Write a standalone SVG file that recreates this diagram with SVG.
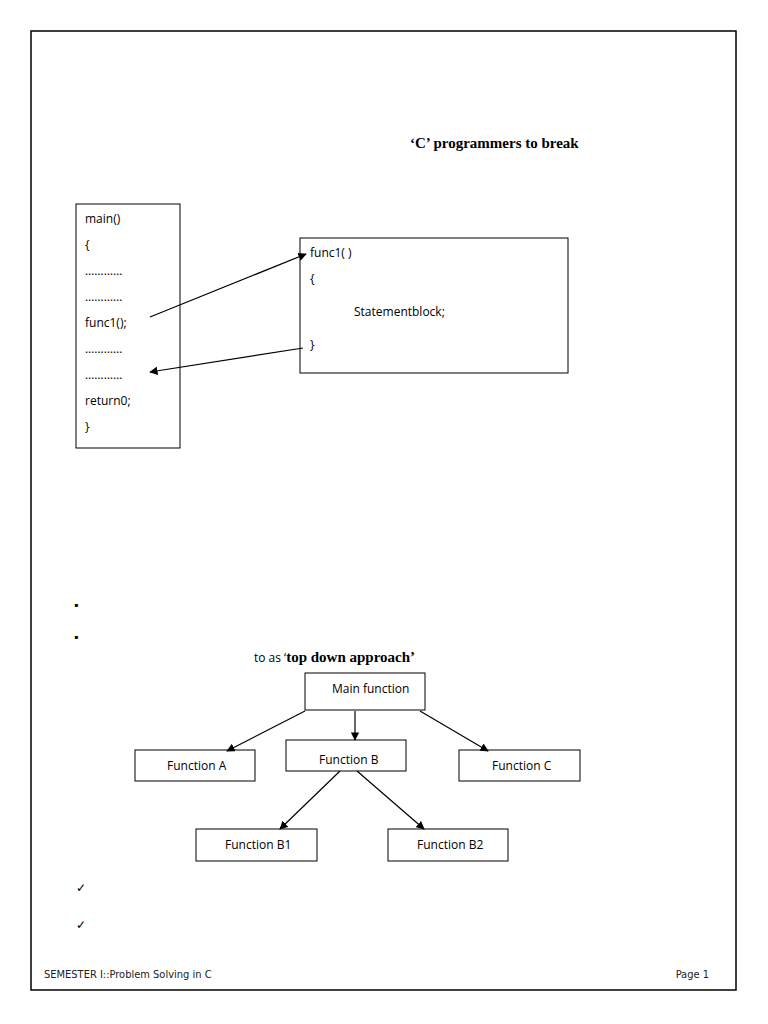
<svg xmlns="http://www.w3.org/2000/svg" width="768" height="1024" viewBox="0 0 768 1024">
<style>
text{font-family:"Open Sans","Liberation Sans",sans-serif;font-size:12px;fill:#000}
.s{font-family:"Liberation Serif",serif;font-weight:bold;font-size:15px}
.b{fill:#fff;stroke:#000;stroke-width:1}
.c{stroke:#000;stroke-width:1.2;fill:none;marker-end:url(#a)}
.f{font-family:"DejaVu Sans Condensed","Liberation Sans Narrow",sans-serif;font-size:11px;fill:#222}
</style>
<defs><marker id="a" viewBox="0 0 10 10" refX="9" refY="5" markerWidth="7" markerHeight="7" orient="auto"><path d="M0,0L10,5L0,10z" fill="#000"/></marker></defs>
<rect x="0" y="0" width="768" height="1024" fill="#fff"/>
<rect x="31" y="31" width="705" height="959" fill="none" stroke="#000" stroke-width="1.5"/>
<text class="s" x="410" y="148">‘C’ programmers to break</text>
<g id="main"><rect class="b" x="76" y="204" width="104" height="244"/>
<text x="85" y="223">main()</text><text x="85" y="249">{</text><text x="85" y="275">…………</text><text x="85" y="301">…………</text><text x="85" y="327">func1();</text><text x="85" y="353">…………</text><text x="85" y="379">…………</text><text x="85" y="405">return0;</text><text x="85" y="431">}</text></g>
<g id="func1"><rect class="b" x="300" y="238" width="268" height="135"/>
<text x="310" y="257">func1( )</text><text x="310" y="283">{</text><text x="354" y="316">Statementblock;</text><text x="310" y="349">}</text></g>
<text x="74" y="609" font-size="12">▪</text><text x="74" y="641" font-size="12">▪</text>
<text x="254" y="662">to as ‘<tspan class="s" font-size="14">top down approach’</tspan></text>
<g id="mf"><rect class="b" x="305" y="673" width="120" height="37"/><text x="332" y="693">Main function</text></g>
<g id="fa"><rect class="b" x="135" y="750" width="120" height="31"/><text x="167" y="770">Function A</text></g>
<g id="fb"><rect class="b" x="286" y="740" width="120" height="31"/><text x="319" y="764">Function B</text></g>
<g id="fc"><rect class="b" x="459" y="750" width="121" height="31"/><text x="492" y="770">Function C</text></g>
<g id="fb1"><rect class="b" x="196" y="829" width="121" height="32"/><text x="225" y="849">Function B1</text></g>
<g id="fb2"><rect class="b" x="388" y="829" width="120" height="32"/><text x="417" y="849">Function B2</text></g>
<g id="connectors">
<line class="c" x1="150" y1="317" x2="306" y2="254"/>
<line class="c" x1="303" y1="348" x2="150" y2="372"/>
<line class="c" x1="305" y1="711" x2="227" y2="751"/>
<line class="c" x1="355" y1="711" x2="355" y2="740"/>
<line class="c" x1="420" y1="711" x2="488" y2="751"/>
<line class="c" x1="340" y1="771" x2="280" y2="829"/>
<line class="c" x1="357" y1="771" x2="424" y2="829"/>
</g>
<text x="76" y="892" font-family="DejaVu Sans" font-size="17">✓</text>
<text x="76" y="929" font-family="DejaVu Sans" font-size="17">✓</text>
<text class="f" x="44" y="978">SEMESTER I::Problem Solving in C</text>
<text class="f" x="709" y="978" text-anchor="end">Page 1</text>
</svg>
